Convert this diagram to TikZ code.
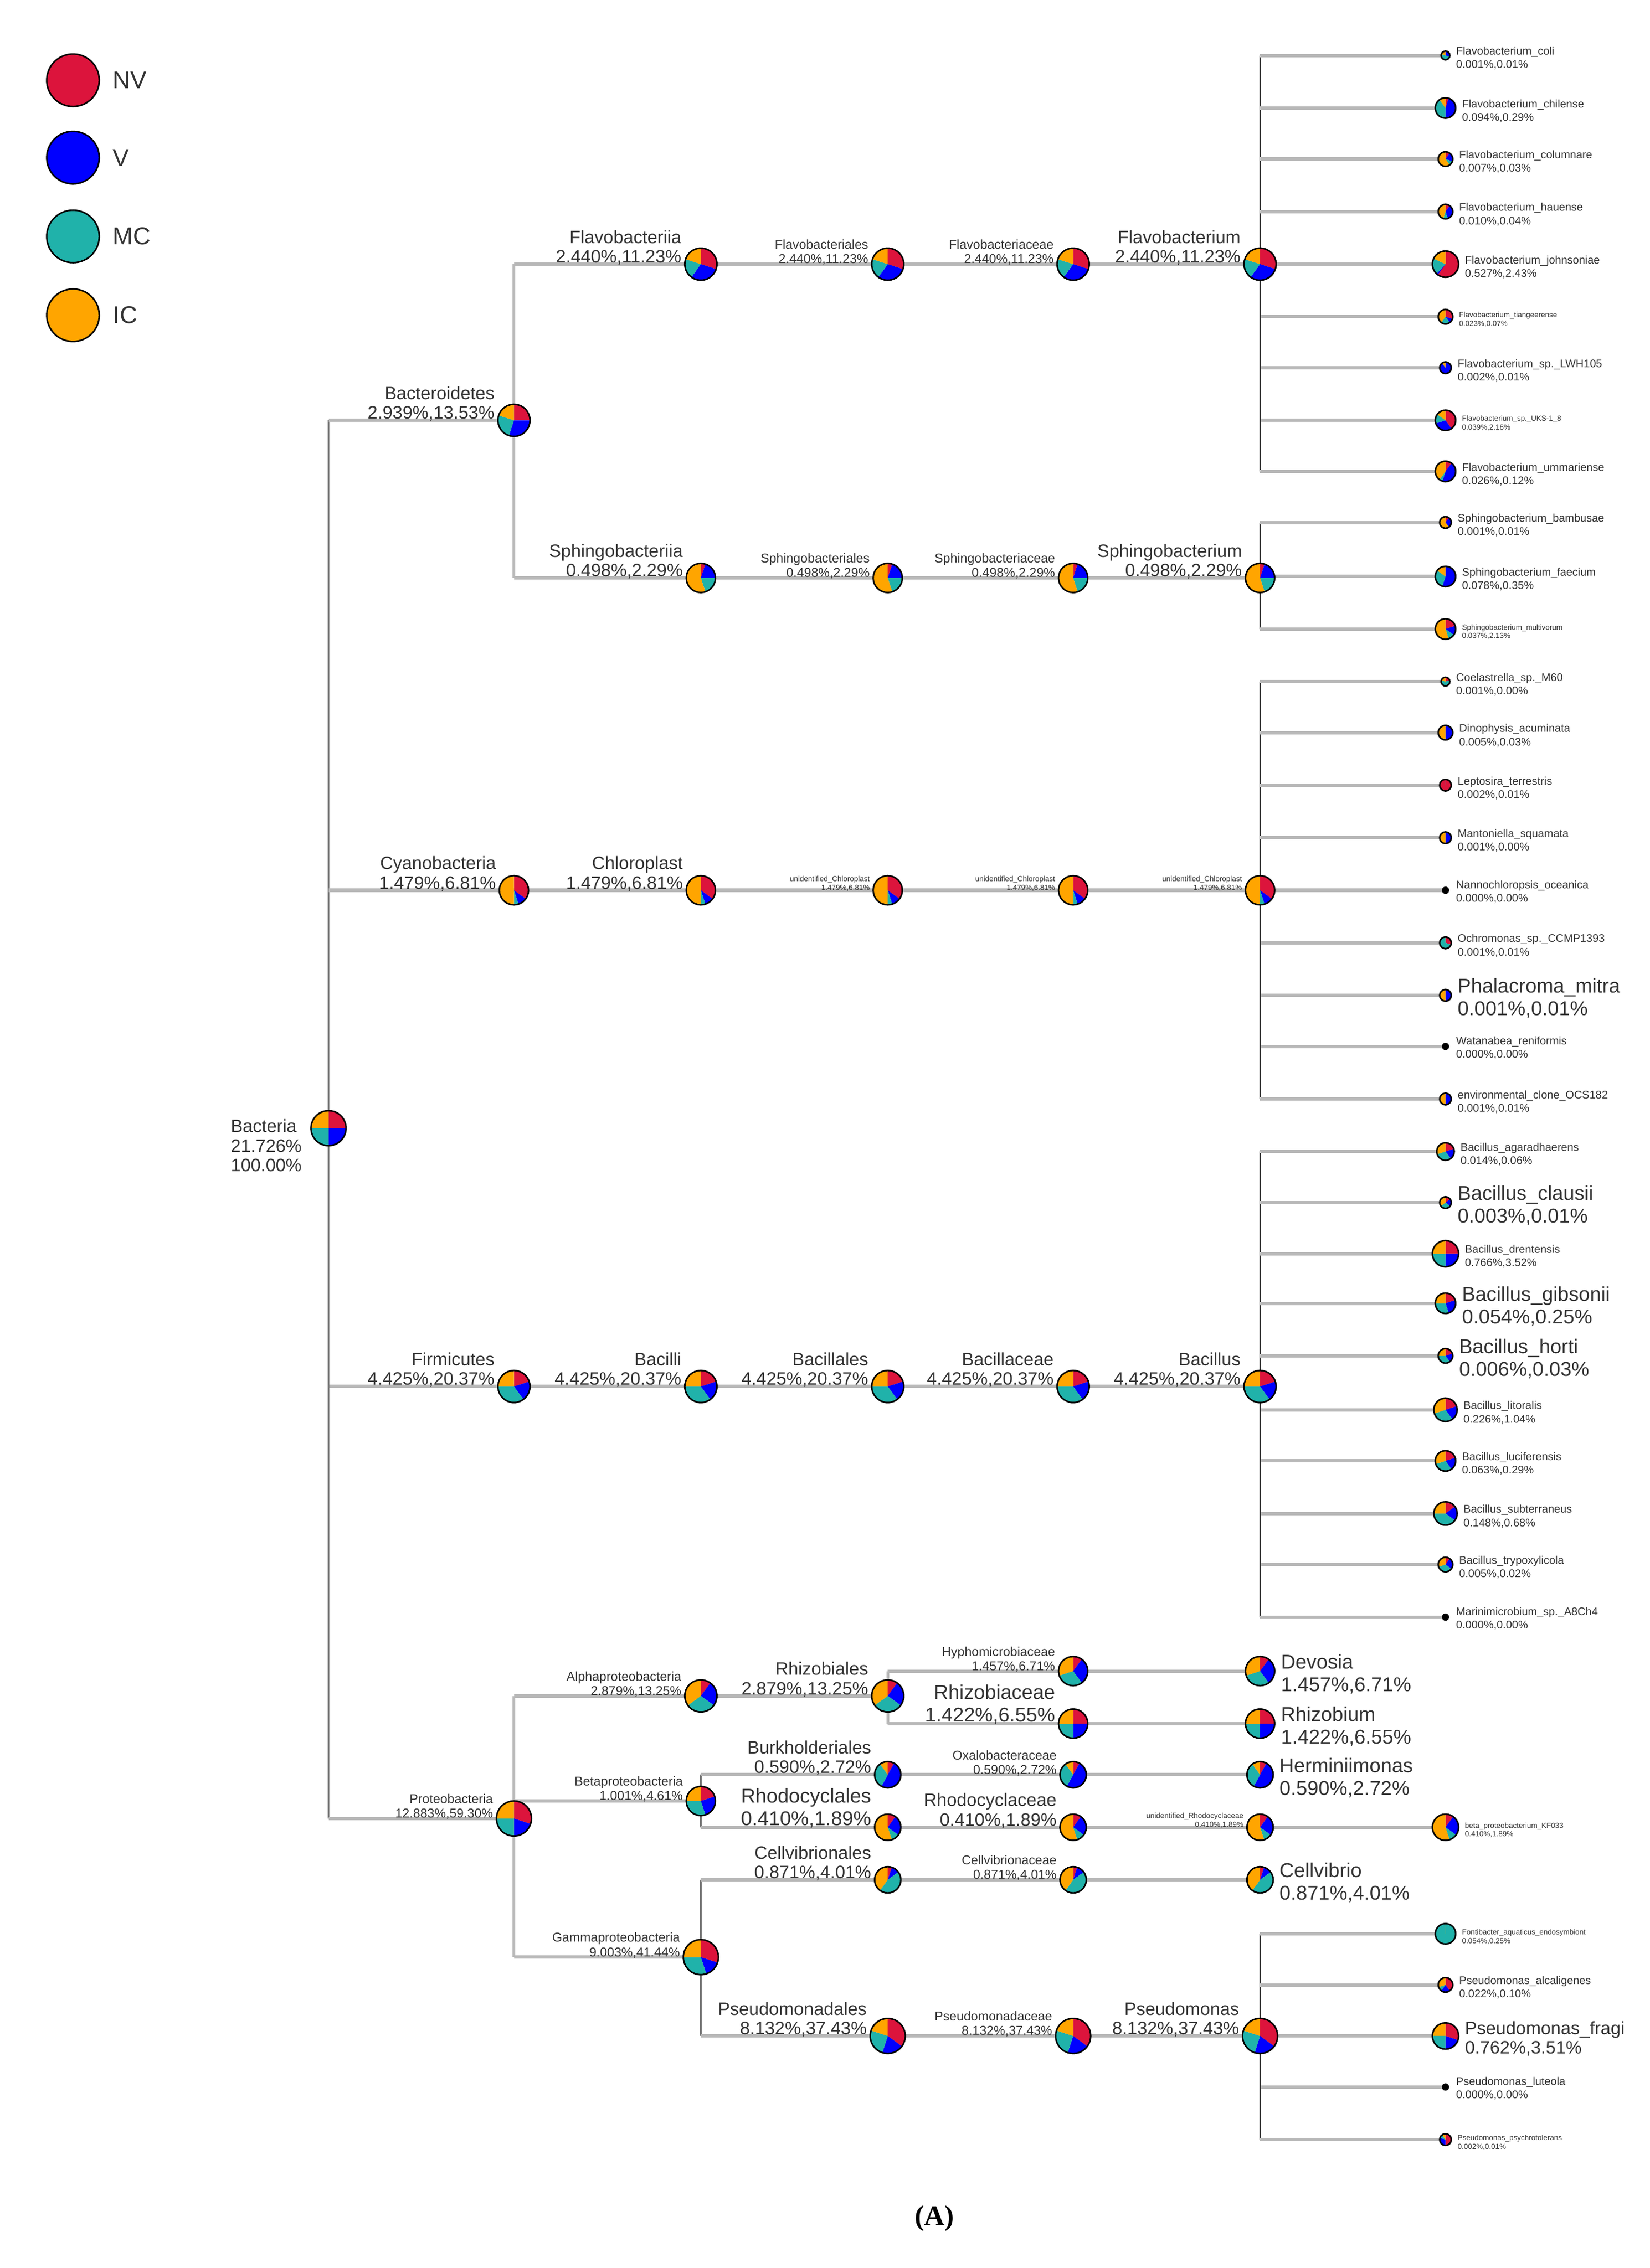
\documentclass[tikz,border=0pt]{standalone}
\usepackage{fontspec}
\setmainfont{Liberation Sans}
\newfontfamily\capfont{Liberation Serif}
\usetikzlibrary{calc}
\pgfdeclarelayer{bg}\pgfsetlayers{bg,main}
\definecolor{cNV}{HTML}{DC143C}
\definecolor{cV}{HTML}{0000FF}
\definecolor{cMC}{HTML}{20B2AA}
\definecolor{cIC}{HTML}{FFA500}
\definecolor{txt}{HTML}{333333}
\newcommand\fB{\fontsize{7}{7.6}\selectfont}
\newcommand\fL{\fontsize{7.8}{8.8}\selectfont}
\newcommand\fM{\fontsize{5}{5.6}\selectfont}
\newcommand\fS{\fontsize{4.3}{5.2}\selectfont}
\newcommand\fT{\fontsize{2.9}{3.4}\selectfont}
\tikzset{x=0.02cm,y=-0.02cm,
 pn/.style={inner sep=0pt,minimum size=0pt},
 lab/.style={inner sep=0pt,align=right,text=txt},
 llab/.style={inner sep=0pt,align=left,text=txt},
 hl/.style={line width=1.3pt,color=black!28},
 vl/.style={line width=0.6pt,color=black!55},
 vk/.style={line width=0.6pt,color=black!85},
 vg/.style={line width=1.1pt,color=black!28},
 pics/pie/.style n args={4}{code={
  \pgfmathsetmacro\pieA{90-360*#2}
  \pgfmathsetmacro\pieB{\pieA-360*#3}
  \pgfmathsetmacro\pieC{\pieB-360*#4}
  \pgfmathsetmacro\pieR{#1*0.02}
  \fill[cNV] (0,0) -- (90:\pieR cm) arc[start angle=90,end angle=\pieA,radius=\pieR cm] -- cycle;
  \fill[cV] (0,0) -- (\pieA:\pieR cm) arc[start angle=\pieA,end angle=\pieB,radius=\pieR cm] -- cycle;
  \fill[cMC] (0,0) -- (\pieB:\pieR cm) arc[start angle=\pieB,end angle=\pieC,radius=\pieR cm] -- cycle;
  \fill[cIC] (0,0) -- (\pieC:\pieR cm) arc[start angle=\pieC,end angle=-270,radius=\pieR cm] -- cycle;
  \draw[line width=0.6pt] (0,0) circle[radius=\pieR cm];
 }}}
\newcommand\inode[9]{\node[pn] (#1) at (#2,#3) {};
 \pic at (#1) {pie={#4}{#5}{#6}{#7}};
 \node[lab,anchor=south east,font=#9] at ($(#1)+({-#4-2},1)$) {#8};}
\newcommand\rnode[9]{\node[pn] (#1) at (#2,#3) {};
 \pic at (#1) {pie={#4}{#5}{#6}{#7}};
 \node[llab,anchor=west,font=#9] at ($(#1)+({#4+4},2)$) {#8};}
\newcommand\dnode[5]{\node[pn] (#1) at (#2,#3) {};
 \fill[black] (#1) circle[radius=0.05cm];
 \node[llab,anchor=west,font=#5] at ($(#1)+(7,1)$) {#4};}
\newcommand\conn[3][vl]{\begin{pgfonlayer}{bg}\draw[#1] (#2.center) -- (#2.center |- #3.center);
 \draw[hl] (#2.center |- #3.center) -- (#3.center);\end{pgfonlayer}}
\begin{document}
\begin{tikzpicture}
\useasboundingbox (0,0) rectangle (1130,1554);
\foreach \c/\t/\yy in {cNV/NV/55,cV/V/108,cMC/MC/162,cIC/IC/216}{
 \node[pn] (lg\t) at (50,\yy) {};
 \fill[\c] (lg\t) circle[radius=0.36cm];
 \draw[line width=0.6pt] (lg\t) circle[radius=0.36cm];
 \node[llab,anchor=west,font=\fontsize{9.5}{10}\selectfont] at ($(lg\t)+(27,0)$) {\t};}
\node[pn] (bact) at (225,773) {};
\pic at (bact) {pie={12}{0.25}{0.25}{0.25}};
\node[llab,anchor=east,font=\fB] at ($(bact)+(-18,12)$) {Bacteria\\21.726\%\\100.00\%};
\inode{bac}{352}{288}{11}{0.25}{0.3}{0.25}{Bacteroidetes\\2.939\%,13.53\%}{\fB}
\inode{cya}{352}{610}{10}{0.35}{0.1}{0.05}{Cyanobacteria\\1.479\%,6.81\%}{\fB}
\inode{fir}{352}{950}{11}{0.2}{0.2}{0.35}{Firmicutes\\4.425\%,20.37\%}{\fB}
\inode{pro}{352}{1246}{12}{0.3}{0.2}{0.25}{Proteobacteria\\12.883\%,59.30\%}{\fM}
\conn{bact}{bac}\conn{bact}{cya}\conn{bact}{fir}\conn{bact}{pro}
\inode{fb1}{480}{181}{11}{0.3}{0.3}{0.2}{Flavobacteriia\\2.440\%,11.23\%}{\fB}
\inode{fb2}{608}{181}{11}{0.3}{0.3}{0.2}{Flavobacteriales\\2.440\%,11.23\%}{\fM}
\inode{fb3}{735}{181}{11}{0.3}{0.3}{0.2}{Flavobacteriaceae\\2.440\%,11.23\%}{\fM}
\inode{fb4}{863}{181}{11}{0.3}{0.3}{0.2}{Flavobacterium\\2.440\%,11.23\%}{\fB}
\inode{sb1}{480}{396}{10}{0.05}{0.2}{0.2}{Sphingobacteriia\\0.498\%,2.29\%}{\fB}
\inode{sb2}{608}{396}{10}{0.05}{0.2}{0.2}{Sphingobacteriales\\0.498\%,2.29\%}{\fM}
\inode{sb3}{735}{396}{10}{0.05}{0.2}{0.2}{Sphingobacteriaceae\\0.498\%,2.29\%}{\fM}
\inode{sb4}{863}{396}{10}{0.05}{0.2}{0.2}{Sphingobacterium\\0.498\%,2.29\%}{\fB}
\conn[vg]{bac}{fb1}\conn[vg]{bac}{sb1}
\conn{fb1}{fb2}\conn{fb2}{fb3}\conn{fb3}{fb4}
\conn{sb1}{sb2}\conn{sb2}{sb3}\conn{sb3}{sb4}
\rnode{f1}{990}{38}{3}{0}{0.3}{0.5}{Flavobacterium\_coli\\0.001\%,0.01\%}{\fS}
\rnode{f2}{990}{74}{7}{0.05}{0.45}{0.4}{Flavobacterium\_chilense\\0.094\%,0.29\%}{\fS}
\rnode{f3}{990}{109}{5}{0.1}{0.2}{0.1}{Flavobacterium\_columnare\\0.007\%,0.03\%}{\fS}
\rnode{f4}{990}{145}{5}{0.1}{0.35}{0.1}{Flavobacterium\_hauense\\0.010\%,0.04\%}{\fS}
\rnode{f5}{990}{181}{9}{0.6}{0.02}{0.2}{Flavobacterium\_johnsoniae\\0.527\%,2.43\%}{\fS}
\rnode{f6}{990}{217}{5}{0.3}{0.1}{0.2}{Flavobacterium\_tiangeerense\\0.023\%,0.07\%}{\fT}
\rnode{f7}{990}{252}{4}{0}{0.9}{0}{Flavobacterium\_sp.\_LWH105\\0.002\%,0.01\%}{\fS}
\rnode{f8}{990}{288}{7}{0.4}{0.3}{0.15}{Flavobacterium\_sp.\_UKS-1\_8\\0.039\%,2.18\%}{\fT}
\rnode{f9}{990}{323}{7}{0.1}{0.45}{0.05}{Flavobacterium\_ummariense\\0.026\%,0.12\%}{\fS}
\rnode{s1}{990}{358}{4}{0.1}{0.3}{0}{Sphingobacterium\_bambusae\\0.001\%,0.01\%}{\fS}
\rnode{s2}{990}{395}{7}{0}{0.55}{0.3}{Sphingobacterium\_faecium\\0.078\%,0.35\%}{\fS}
\rnode{s3}{990}{431}{7}{0.2}{0.15}{0.1}{Sphingobacterium\_multivorum\\0.037\%,2.13\%}{\fT}
\foreach \n in {f1,f2,f3,f4,f5,f6,f7,f8,f9}{\conn[vk]{fb4}{\n}}
\foreach \n in {s1,s2,s3}{\conn[vk]{sb4}{\n}}
\inode{cy1}{480}{610}{10}{0.35}{0.1}{0.05}{Chloroplast\\1.479\%,6.81\%}{\fB}
\inode{cy2}{608}{610}{10}{0.35}{0.1}{0.05}{unidentified\_Chloroplast\\1.479\%,6.81\%}{\fT}
\inode{cy3}{735}{610}{10}{0.35}{0.1}{0.05}{unidentified\_Chloroplast\\1.479\%,6.81\%}{\fT}
\inode{cy4}{863}{610}{10}{0.35}{0.1}{0.05}{unidentified\_Chloroplast\\1.479\%,6.81\%}{\fT}
\conn{cya}{cy1}\conn{cy1}{cy2}\conn{cy2}{cy3}\conn{cy3}{cy4}
\rnode{c1}{990}{467}{3}{0.2}{0}{0.6}{Coelastrella\_sp.\_M60\\0.001\%,0.00\%}{\fS}
\rnode{c2}{990}{502}{5}{0}{0.5}{0}{Dinophysis\_acuminata\\0.005\%,0.03\%}{\fS}
\rnode{c3}{990}{538}{4}{1}{0}{0}{Leptosira\_terrestris\\0.002\%,0.01\%}{\fS}
\rnode{c4}{990}{574}{4}{0}{0.5}{0}{Mantoniella\_squamata\\0.001\%,0.00\%}{\fS}
\dnode{c5}{990}{610}{Nannochloropsis\_oceanica\\0.000\%,0.00\%}{\fS}
\rnode{c6}{990}{646}{4}{0.3}{0}{0.7}{Ochromonas\_sp.\_CCMP1393\\0.001\%,0.01\%}{\fS}
\rnode{c7}{990}{682}{4}{0}{0.5}{0}{Phalacroma\_mitra\\0.001\%,0.01\%}{\fL}
\dnode{c8}{990}{717}{Watanabea\_reniformis\\0.000\%,0.00\%}{\fS}
\rnode{c9}{990}{753}{4}{0}{0.5}{0}{environmental\_clone\_OCS182\\0.001\%,0.01\%}{\fS}
\foreach \n in {c1,c2,c3,c4,c5,c6,c7,c8,c9}{\conn[vk]{cy4}{\n}}
\inode{fi1}{480}{950}{11}{0.2}{0.2}{0.35}{Bacilli\\4.425\%,20.37\%}{\fB}
\inode{fi2}{608}{950}{11}{0.2}{0.2}{0.35}{Bacillales\\4.425\%,20.37\%}{\fB}
\inode{fi3}{735}{950}{11}{0.2}{0.2}{0.35}{Bacillaceae\\4.425\%,20.37\%}{\fB}
\inode{fi4}{863}{950}{11}{0.2}{0.2}{0.35}{Bacillus\\4.425\%,20.37\%}{\fB}
\conn{fir}{fi1}\conn{fi1}{fi2}\conn{fi2}{fi3}\conn{fi3}{fi4}
\rnode{b1}{990}{789}{6}{0.2}{0.2}{0.3}{Bacillus\_agaradhaerens\\0.014\%,0.06\%}{\fS}
\rnode{b2}{990}{824}{4}{0.15}{0.2}{0.3}{Bacillus\_clausii\\0.003\%,0.01\%}{\fL}
\rnode{b3}{990}{859}{9}{0.25}{0.25}{0.25}{Bacillus\_drentensis\\0.766\%,3.52\%}{\fS}
\rnode{b4}{990}{893}{7}{0.2}{0.25}{0.3}{Bacillus\_gibsonii\\0.054\%,0.25\%}{\fL}
\rnode{b5}{990}{929}{5}{0.2}{0.2}{0.35}{Bacillus\_horti\\0.006\%,0.03\%}{\fL}
\rnode{b6}{990}{966}{8}{0.2}{0.2}{0.3}{Bacillus\_litoralis\\0.226\%,1.04\%}{\fS}
\rnode{b7}{990}{1001}{7}{0.2}{0.2}{0.3}{Bacillus\_luciferensis\\0.063\%,0.29\%}{\fS}
\rnode{b8}{990}{1037}{8}{0.15}{0.2}{0.4}{Bacillus\_subterraneus\\0.148\%,0.68\%}{\fS}
\rnode{b9}{990}{1072}{5}{0.1}{0.25}{0.35}{Bacillus\_trypoxylicola\\0.005\%,0.02\%}{\fS}
\dnode{b10}{990}{1108}{Marinimicrobium\_sp.\_A8Ch4\\0.000\%,0.00\%}{\fS}
\foreach \n in {b1,b2,b3,b4,b5,b6,b7,b8,b9,b10}{\conn[vk]{fi4}{\n}}
\inode{al1}{480}{1162}{11}{0.1}{0.25}{0.3}{Alphaproteobacteria\\2.879\%,13.25\%}{\fM}
\inode{al2}{608}{1162}{11}{0.1}{0.25}{0.3}{Rhizobiales\\2.879\%,13.25\%}{\fB}
\inode{al3}{735}{1145}{10}{0.1}{0.3}{0.3}{Hyphomicrobiaceae\\1.457\%,6.71\%}{\fM}
\inode{al4}{735}{1181}{10}{0.25}{0.25}{0.25}{Rhizobiaceae\\1.422\%,6.55\%}{\fL}
\rnode{al5}{863}{1145}{10}{0.1}{0.3}{0.3}{Devosia\\1.457\%,6.71\%}{\fL}
\rnode{al6}{863}{1181}{10}{0.25}{0.25}{0.25}{Rhizobium\\1.422\%,6.55\%}{\fL}
\conn[vg]{pro}{al1}\conn{al1}{al2}\conn[vg]{al2}{al3}\conn[vg]{al2}{al4}\conn{al3}{al5}\conn{al4}{al6}
\inode{be1}{480}{1234}{10}{0.2}{0.25}{0.3}{Betaproteobacteria\\1.001\%,4.61\%}{\fM}
\inode{be2}{608}{1216}{9}{0.08}{0.5}{0.32}{Burkholderiales\\0.590\%,2.72\%}{\fB}
\inode{be3}{735}{1216}{9}{0.08}{0.5}{0.32}{Oxalobacteraceae\\0.590\%,2.72\%}{\fM}
\rnode{be4}{863}{1216}{9}{0.08}{0.5}{0.32}{Herminiimonas\\0.590\%,2.72\%}{\fL}
\inode{be5}{608}{1252}{9}{0.1}{0.25}{0.1}{Rhodocyclales\\0.410\%,1.89\%}{\fL}
\inode{be6}{735}{1252}{9}{0.1}{0.25}{0.1}{Rhodocyclaceae\\0.410\%,1.89\%}{\fB}
\inode{be7}{863}{1252}{9}{0.1}{0.25}{0.1}{unidentified\_Rhodocyclaceae\\0.410\%,1.89\%}{\fT}
\rnode{be8}{990}{1252}{9}{0.1}{0.25}{0.1}{beta\_proteobacterium\_KF033\\0.410\%,1.89\%}{\fT}
\conn[vg]{pro}{be1}\conn{be1}{be2}\conn{be1}{be5}\conn{be2}{be3}\conn{be3}{be4}
\conn{be5}{be6}\conn{be6}{be7}\conn{be7}{be8}
\inode{ga1}{480}{1341}{12}{0.3}{0.15}{0.3}{Gammaproteobacteria\\9.003\%,41.44\%}{\fM}
\inode{ga2}{608}{1288}{9}{0.05}{0.1}{0.45}{Cellvibrionales\\0.871\%,4.01\%}{\fB}
\inode{ga3}{735}{1288}{9}{0.05}{0.1}{0.45}{Cellvibrionaceae\\0.871\%,4.01\%}{\fM}
\rnode{ga4}{863}{1288}{9}{0.05}{0.1}{0.45}{Cellvibrio\\0.871\%,4.01\%}{\fL}
\inode{ga5}{608}{1395}{12}{0.35}{0.2}{0.25}{Pseudomonadales\\8.132\%,37.43\%}{\fB}
\inode{ga6}{735}{1395}{12}{0.35}{0.2}{0.25}{Pseudomonadaceae\\8.132\%,37.43\%}{\fM}
\inode{ga7}{863}{1395}{12}{0.35}{0.2}{0.25}{Pseudomonas\\8.132\%,37.43\%}{\fB}
\conn[vg]{pro}{ga1}\conn{ga1}{ga2}\conn{ga1}{ga5}\conn{ga2}{ga3}\conn{ga3}{ga4}
\conn{ga5}{ga6}\conn{ga6}{ga7}
\rnode{p1}{990}{1325}{7}{0}{0}{1}{Fontibacter\_aquaticus\_endosymbiont\\0.054\%,0.25\%}{\fT}
\rnode{p2}{990}{1360}{5}{0.4}{0.2}{0.1}{Pseudomonas\_alcaligenes\\0.022\%,0.10\%}{\fS}
\rnode{p3}{990}{1395}{9}{0.3}{0.2}{0.25}{Pseudomonas\_fragi\\0.762\%,3.51\%}{\fB}
\dnode{p4}{990}{1430}{Pseudomonas\_luteola\\0.000\%,0.00\%}{\fS}
\rnode{p5}{990}{1466}{4}{0.5}{0.3}{0.1}{Pseudomonas\_psychrotolerans\\0.002\%,0.01\%}{\fT}
\foreach \n in {p1,p2,p3,p4,p5}{\conn[vk]{ga7}{\n}}
\node[inner sep=0pt,font=\capfont\bfseries\fontsize{11}{12}\selectfont] (cap) at (640,1520) {(A)};
\end{tikzpicture}
\end{document}
